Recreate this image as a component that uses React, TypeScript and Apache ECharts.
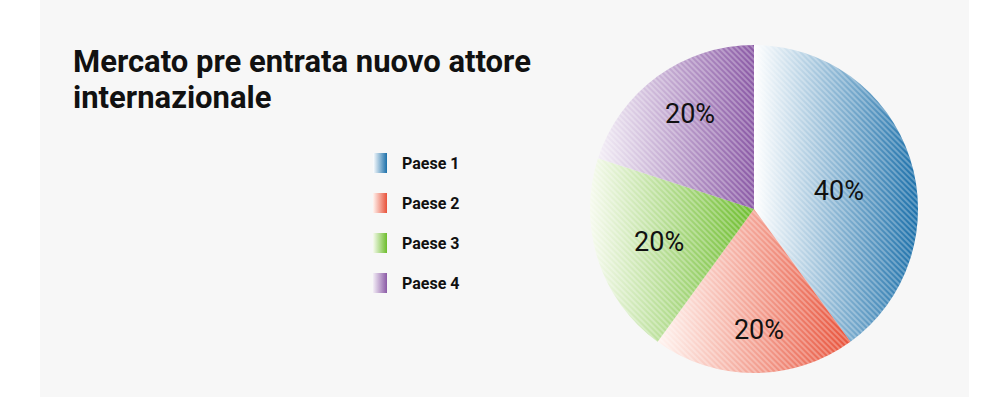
import React, { useEffect, useRef } from "react";
import * as echarts from "echarts";

const titleLines = ["Mercato pre entrata nuovo attore", "internazionale"];
const categories = ["Paese 1", "Paese 2", "Paese 3", "Paese 4"];
const values = [40, 20, 20, 20];
const lightColors = ["#ffffff", "#fff4f0", "#f6faee", "#f3eef6"];
const darkColors = ["#1c70aa", "#e8523a", "#6dbd2c", "#8b5aa6"];
const labelOffsets = [
  [4, 8],
  [5, 36],
  [-14, 7],
  [-14, -26],
];

export default function App() {
  const ref = useRef<HTMLDivElement>(null);
  useEffect(() => {
    if (!ref.current) return;
    const chart = echarts.init(ref.current, null, { renderer: "svg" });
    const data = categories.map((name, i) => ({
      name,
      value: values[i],
      itemStyle: {
        color: new echarts.graphic.LinearGradient(0, 0, 1, 0, [
          { offset: 0, color: lightColors[i] },
          { offset: 1, color: darkColors[i] },
        ]),
        decal: {
          symbol: "rect",
          symbolSize: 1,
          dashArrayX: [1, 0],
          dashArrayY: [2, 2],
          rotation: Math.PI / 4,
          color: "rgba(255,255,255,0.28)",
        },
      },
      label: { offset: labelOffsets[i] },
    }));
    chart.setOption({
      animation: false,
      aria: { enabled: true, decal: { show: true } },
      backgroundColor: "#ffffff",
      graphic: [
        {
          type: "rect",
          left: 40,
          top: 0,
          z: -10,
          shape: { width: 929, height: 397 },
          style: { fill: "#f7f7f7" },
        },
      ],
      title: {
        text: titleLines.join("\n"),
        left: 73,
        top: 43,
        padding: 0,
        textStyle: {
          fontFamily: "Roboto",
          fontWeight: "bold",
          fontSize: 31,
          lineHeight: 36,
          color: "#111111",
        },
      },
      legend: {
        orient: "vertical",
        left: 373,
        top: 153,
        padding: 0,
        itemWidth: 14,
        itemHeight: 20,
        itemGap: 20,
        icon: "rect",
        selectedMode: false,
        itemStyle: { decal: "none" },
        textStyle: {
          fontFamily: "Roboto",
          fontWeight: "bold",
          fontSize: 16,
          color: "#111111",
          padding: [0, 0, 0, 10],
        },
        data: categories,
      },
      series: [
        {
          type: "pie",
          center: [754, 209],
          radius: 164,
          startAngle: 90,
          clockwise: true,
          label: {
            show: true,
            position: "inside",
            formatter: "{d}%",
            fontFamily: "Roboto",
            fontSize: 27,
            color: "#111111",
          },
          labelLine: { show: false },
          emphasis: { disabled: true },
          data,
        },
      ],
    });
    return () => chart.dispose();
  }, []);
  return (
    <div
      ref={ref}
      style={{ position: "fixed", left: 0, top: 0, width: 998, height: 397 }}
    />
  );
}
